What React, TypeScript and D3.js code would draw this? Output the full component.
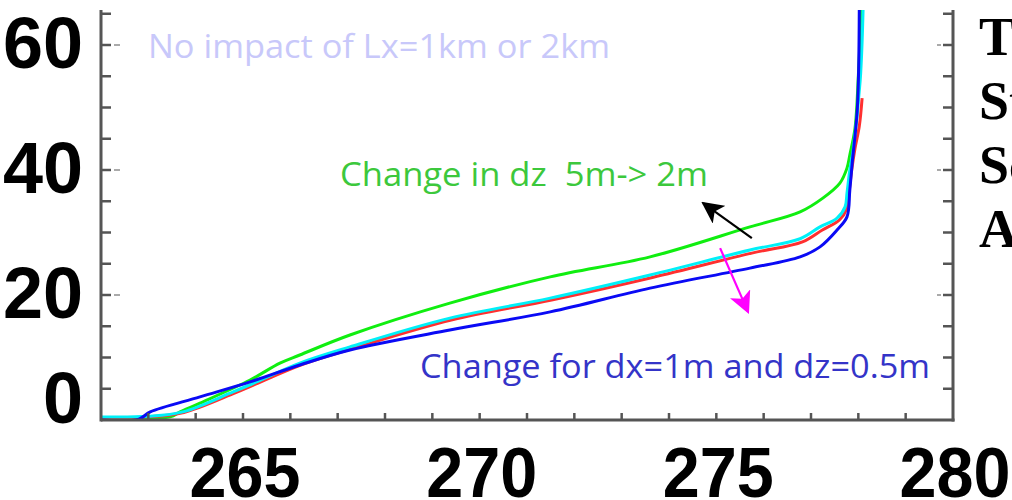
import React, { useRef, useEffect } from 'react';
import * as d3 from 'd3';

// temperature (K) vs height (m) profiles
const blueT = [262.0, 262.8, 263.04, 264.09, 265.15, 266.2, 267.26, 269.37, 271.49, 273.6, 275.71, 276.77, 277.19, 277.55, 277.76, 277.82, 277.87, 277.98, 278.02];
const blueZ = [0.0, 0.15, 1.3, 3.7, 6.1, 8.8, 11.2, 14.4, 17.3, 21.1, 24.3, 26.1, 27.7, 30.4, 32.5, 36.8, 41.1, 50.0, 65.6];

const greenT = [262.0, 263.46, 263.67, 264.09, 265.15, 265.78, 266.2, 267.26, 269.37, 271.49, 273.6, 275.71, 276.77, 277.25, 277.61, 277.76, 277.82, 277.93, 278.0, 278.06];
const greenZ = [0.3, 0.5, 1.3, 2.7, 6.4, 9.1, 10.4, 13.6, 18.7, 22.9, 26.1, 30.9, 33.3, 35.5, 37.9, 40.3, 42.4, 46.7, 55.0, 65.6];

const cyanT = [262.0, 263.0, 263.73, 264.79, 265.2, 266.2, 267.26, 269.37, 271.49, 273.6, 275.71, 276.77, 277.19, 277.55, 277.72, 277.76, 277.82, 277.89, 278.04, 278.1];
const cyanZ = [0.5, 0.6, 1.3, 4.5, 5.8, 9.1, 11.7, 16.3, 19.5, 23.2, 27.2, 29.0, 30.9, 32.3, 34.1, 36.3, 40.0, 43.2, 54.4, 65.6];

const redT = [262.0, 263.0, 263.75, 264.82, 265.22, 266.22, 267.3, 269.4, 271.52, 273.65, 275.75, 276.82, 277.24, 277.6, 277.76, 277.8, 277.86, 277.93, 278.02, 278.08];
const redZ = [0.4, 0.5, 1.2, 4.3, 5.6, 8.8, 11.4, 16.0, 19.2, 22.8, 26.7, 28.5, 30.4, 32.0, 33.9, 36.2, 40.0, 43.5, 47.0, 51.5];

const xTickLabels = [265, 270, 275, 280];
const yTickLabels = [0, 20, 40, 60];
const sideText = ['T', 'St', 'Sc', 'A'];

const width = 1012;
const height = 500;

const App = () => {
    const svgRef = useRef(null);

    useEffect(() => {
        const svg = d3.select(svgRef.current);
        svg.selectAll("*").remove();

        const left = 101, right = 953, top = 10, bottom = 420;
        const x = d3.scaleLinear().domain([262, 280]).range([left, right]);
        const y = d3.scaleLinear().domain([0, 65.6]).range([bottom, top]);

        svg.append("rect").attr("width", width).attr("height", height).attr("fill", "white");

        const defs = svg.append("defs");
        defs.append("clipPath").attr("id", "plotclip")
            .append("rect").attr("x", left).attr("y", top - 2).attr("width", right - left).attr("height", bottom - top + 2);

        const axisColor = "#555";

        // annotation text
        svg.append("text")
            .attr("x", 148).attr("y", 58)
            .attr("font-family", "Open Sans").attr("font-size", 32)
            .attr("fill", "#c8c8fa")
            .attr("textLength", 462).attr("lengthAdjust", "spacingAndGlyphs")
            .text("No impact of Lx=1km or 2km");

        svg.append("text")
            .attr("x", 340).attr("y", 186)
            .attr("font-family", "Open Sans").attr("font-size", 32)
            .attr("fill", "#3cc83c")
            .style("white-space", "pre")
            .attr("textLength", 368).attr("lengthAdjust", "spacingAndGlyphs")
            .text("Change in dz  5m-> 2m");

        svg.append("text")
            .attr("x", 420).attr("y", 378)
            .attr("font-family", "Open Sans").attr("font-size", 32)
            .attr("fill", "#3434c8")
            .attr("textLength", 510).attr("lengthAdjust", "spacingAndGlyphs")
            .text("Change for dx=1m and dz=0.5m");

        // lines
        const line = d3.line()
            .x(d => x(d[0]))
            .y(d => y(d[1]))
            .curve(d3.curveCatmullRom);

        const series = [
            { t: greenT, z: greenZ, color: "#10ee10" },
            { t: redT, z: redZ, color: "#ff3030" },
            { t: cyanT, z: cyanZ, color: "#00f0f8" },
            { t: blueT, z: blueZ, color: "#0a0af5" },
        ];

        const plot = svg.append("g").attr("clip-path", "url(#plotclip)");
        series.forEach(s => {
            plot.append("path")
                .attr("d", line(s.t.map((t, i) => [t, s.z[i]])))
                .attr("fill", "none")
                .attr("stroke", s.color)
                .attr("stroke-width", 3);
        });

        // arrows
        const mk = (id, color) => {
            defs.append("marker").attr("id", id)
                .attr("viewBox", "0 0 10 10").attr("refX", 9).attr("refY", 5)
                .attr("markerWidth", 22).attr("markerHeight", 22)
                .attr("markerUnits", "userSpaceOnUse")
                .attr("orient", "auto")
                .append("path").attr("d", "M0,0 L10,5 L0,10 L2.5,5 Z").attr("fill", color);
        };
        mk("arrBlack", "#000");
        mk("arrMag", "#ff00ff");

        svg.append("line")
            .attr("x1", x(275.75)).attr("y1", y(29.1))
            .attr("x2", x(274.72)).attr("y2", y(34.7))
            .attr("stroke", "#000").attr("stroke-width", 2.2)
            .attr("marker-end", "url(#arrBlack)");

        svg.append("line")
            .attr("x1", x(275.08)).attr("y1", y(27.5))
            .attr("x2", x(275.67)).attr("y2", y(17.3))
            .attr("stroke", "#ff00ff").attr("stroke-width", 2.2)
            .attr("marker-end", "url(#arrMag)");

        // axes
        svg.append("line").attr("x1", left).attr("x2", left).attr("y1", top).attr("y2", bottom + 1.5)
            .attr("stroke", axisColor).attr("stroke-width", 3);
        svg.append("line").attr("x1", right).attr("x2", right).attr("y1", top).attr("y2", bottom + 1.5)
            .attr("stroke", axisColor).attr("stroke-width", 3);
        svg.append("line").attr("x1", left).attr("x2", right + 1.5).attr("y1", bottom).attr("y2", bottom)
            .attr("stroke", axisColor).attr("stroke-width", 3);

        const yTicks = d3.range(5, 66, 5);
        yTicks.forEach(v => {
            svg.append("line").attr("x1", left).attr("x2", left + 10).attr("y1", y(v)).attr("y2", y(v))
                .attr("stroke", axisColor).attr("stroke-width", 2.5);
            svg.append("line").attr("x1", right - 10).attr("x2", right).attr("y1", y(v)).attr("y2", y(v))
                .attr("stroke", axisColor).attr("stroke-width", 2.5);
            if (v % 20 === 0) {
                svg.append("line").attr("x1", left + 13).attr("x2", left + 19).attr("y1", y(v)).attr("y2", y(v))
                    .attr("stroke", "#aaa").attr("stroke-width", 2);
                svg.append("line").attr("x1", right - 16).attr("x2", right - 12).attr("y1", y(v)).attr("y2", y(v))
                    .attr("stroke", "#aaa").attr("stroke-width", 2);
            }
        });

        const xTicks = d3.range(263, 280, 1);
        xTicks.forEach(v => {
            svg.append("line").attr("x1", x(v)).attr("x2", x(v)).attr("y1", bottom).attr("y2", bottom - 7)
                .attr("stroke", axisColor).attr("stroke-width", 2.5);
        });

        // tick labels
        svg.selectAll(".xl").data(xTickLabels).join("text")
            .attr("x", d => x(d) + 2)
            .attr("y", 497)
            .attr("text-anchor", "middle")
            .attr("font-family", "Liberation Sans, Arial, sans-serif")
            .attr("font-weight", "bold")
            .attr("font-size", 70)
            .attr("fill", "#000")
            .attr("textLength", 111).attr("lengthAdjust", "spacingAndGlyphs")
            .text(d => d);

        svg.selectAll(".yl").data(yTickLabels).join("text")
            .attr("x", 83)
            .attr("y", d => Math.min(y(d) + 23, 423))
            .attr("text-anchor", "end")
            .attr("font-family", "Liberation Sans, Arial, sans-serif")
            .attr("font-weight", "bold")
            .attr("font-size", 72)
            .attr("fill", "#000")
            .text(d => d);

        // cut-off slide text on the right
        svg.selectAll(".side").data(sideText).join("text")
            .attr("x", 979)
            .attr("y", (d, i) => 55 + i * 64)
            .attr("font-family", "Liberation Serif, Times New Roman, serif")
            .attr("font-weight", "bold")
            .attr("font-size", 54)
            .attr("fill", "#000")
            .text(d => d);
    }, []);

    return <svg ref={svgRef} width={width} height={height} style={{ position: 'absolute', left: 0, top: 0 }}></svg>;
};

export default App;
